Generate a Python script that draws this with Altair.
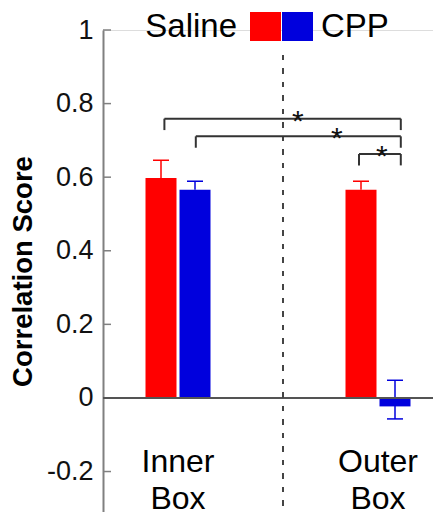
import altair as alt
import pandas as pd

# ---- data ----
groups = ["Inner Box", "Outer Box"]
group_labels = [["Inner", "Box"], ["Outer", "Box"]]
series = ["Saline", "CPP"]
colors = ["#ff0000", "#0000dd"]

saline_mean = [0.598, 0.566]
saline_err_hi = [0.646, 0.589]
saline_err_lo = [0.598, 0.566]
cpp_mean = [0.566, -0.023]
cpp_err_hi = [0.589, 0.048]
cpp_err_lo = [0.566, -0.057]

bracket_left = [0.932, 1.089, 1.905]
bracket_right = [2.114, 2.114, 2.114]
bracket_level = [0.759, 0.711, 0.663]
star_x = [1.599, 1.794, 2.019]
star_text = ["*", "*", "*"]

y_ticks = [-0.2, 0, 0.2, 0.4, 0.6, 0.8, 1]

# ---- layout constants ----
FONT = "Liberation Sans"
W, H = 330, 482
X_DOM = [0.625, 2.275]
Y_DOM = [-0.31, 1.0]
OFF = 0.085
HALF = 0.0775
CAP = 0.04
DROP = 0.031

means = [saline_mean, cpp_mean]
his = [saline_err_hi, cpp_err_hi]
los = [saline_err_lo, cpp_err_lo]

rows = []
for gi, g in enumerate(groups):
    for si, s in enumerate(series):
        c = gi + 1 + (-OFF if si == 0 else OFF)
        rows.append(dict(group=g, series=s, c=c, x=c - HALF, x2=c + HALF,
                         cl=c - CAP, cr=c + CAP,
                         mean=means[si][gi], hi=his[si][gi], lo=los[si][gi]))
bars = pd.DataFrame(rows)

xs = alt.Scale(domain=X_DOM, nice=False, zero=False)
ys = alt.Scale(domain=Y_DOM, nice=False, zero=False)
col = alt.Scale(domain=series, range=colors)

y_axis = alt.Axis(values=y_ticks, ticks=False, grid=False,
                  domainColor="#808080", domainWidth=2,
                  labelFont=FONT, labelFontSize=27, labelColor="#111111",
                  labelPadding=10, labelFlush=False, labelOverlap=False,
                  labelExpr="datum.value < 0 ? '-' + format(-datum.value, '~g') : format(datum.value, '~g')",
                  title="Correlation Score", titleFont=FONT, titleFontSize=27.5,
                  titleFontWeight="bold", titleColor="#000000", titlePadding=9)

base = alt.Chart(bars)

bar_layer = base.mark_bar(strokeWidth=0).encode(
    x=alt.X("x:Q", scale=xs, axis=None),
    x2="x2:Q",
    y=alt.Y("mean:Q", scale=ys, axis=y_axis),
    y2=alt.datum(0),
    color=alt.Color("series:N", scale=col, legend=None),
)

err_rule = base.mark_rule(strokeWidth=1.5).encode(
    x="c:Q", y="lo:Q", y2="hi:Q",
    color=alt.Color("series:N", scale=col, legend=None),
)
err_cap_hi = base.mark_rule(strokeWidth=1.5).encode(
    x="cl:Q", x2="cr:Q", y="hi:Q",
    color=alt.Color("series:N", scale=col, legend=None),
)
err_cap_lo = base.transform_filter("datum.lo < datum.mean").mark_rule(strokeWidth=1.5).encode(
    x="cl:Q", x2="cr:Q", y="lo:Q",
    color=alt.Color("series:N", scale=col, legend=None),
)

# inward y ticks
tick_df = pd.DataFrame({"v": y_ticks})
ticks = alt.Chart(tick_df).mark_rule(color="#808080", strokeWidth=1.5).encode(
    y=alt.Y("v:Q", scale=ys), x=alt.value(0), x2=alt.value(8)
)

# zero line
zero = alt.Chart(tick_df).mark_rule(color="#555555", strokeWidth=1.5).encode(
    y=alt.datum(0), x=alt.value(0), x2=alt.value(W)
)

# dashed divider
divider = alt.Chart(tick_df).mark_rule(color="#444444", strokeWidth=2, strokeDash=[5, 8.5]).encode(
    x=alt.value(180), y=alt.value(25), y2=alt.value(H)
)

# significance brackets
br = pd.DataFrame({"l": bracket_left, "r": bracket_right, "lev": bracket_level,
                   "sx": star_x, "t": star_text})
br["low"] = br["lev"] - DROP
bcol = "#333333"
b_h = alt.Chart(br).mark_rule(color=bcol, strokeWidth=2).encode(
    x=alt.X("l:Q", scale=xs), x2="r:Q", y=alt.Y("lev:Q", scale=ys))
b_l = alt.Chart(br).mark_rule(color=bcol, strokeWidth=2).encode(
    x=alt.X("l:Q", scale=xs), y=alt.Y("lev:Q", scale=ys), y2="low:Q")
b_r = alt.Chart(br).mark_rule(color=bcol, strokeWidth=2).encode(
    x=alt.X("r:Q", scale=xs), y=alt.Y("lev:Q", scale=ys), y2="low:Q")
stars = alt.Chart(br).mark_text(font=FONT, fontSize=30, color="#111111",
                                baseline="alphabetic", dy=12).encode(
    x=alt.X("sx:Q", scale=xs), y=alt.Y("lev:Q", scale=ys), text="t:N")

# group labels
gl = pd.DataFrame({"pos": [i + 1 for i in range(len(groups))], "lab": group_labels})
glabels = alt.Chart(gl).mark_text(font=FONT, fontSize=32, color="#000000",
                                  baseline="middle", lineHeight=37).encode(
    x=alt.X("pos:Q", scale=xs), y=alt.value(432), text="lab")

# legend
lg = pd.DataFrame({"series": series, "i": list(range(len(series)))})
lg["x"] = 147 + lg["i"] * 32
lg["x2"] = lg["x"] + 31
leg_rect = alt.Chart(lg).mark_rect().encode(
    x=alt.X("x:Q", scale=None), x2="x2:Q",
    y=alt.value(-18), y2=alt.value(11),
    color=alt.Color("series:N", scale=col, legend=None))
lt = pd.DataFrame({"t": series, "x": [134, 218]})
leg_t1 = alt.Chart(lt.iloc[[0]]).mark_text(font=FONT, fontSize=33, align="right",
                                           baseline="middle", color="#000000").encode(
    x=alt.X("x:Q", scale=None), y=alt.value(-3), text="t:N")
leg_t2 = alt.Chart(lt.iloc[[1]]).mark_text(font=FONT, fontSize=33, align="left",
                                           baseline="middle", color="#000000").encode(
    x=alt.X("x:Q", scale=None), y=alt.value(-3), text="t:N")

chart = alt.layer(
    bar_layer, err_rule, err_cap_hi, err_cap_lo, ticks, zero, divider,
    b_h, b_l, b_r, stars, glabels, leg_rect, leg_t1, leg_t2
).properties(
    width=W, height=H,
    autosize=alt.AutoSizeParams(type="none"),
    padding={"left": 103, "top": 30, "right": 0, "bottom": 0},
).configure_view(stroke=None).configure(background="white")

chart.save("out.html", embed_options={"renderer": "svg", "actions": False})
